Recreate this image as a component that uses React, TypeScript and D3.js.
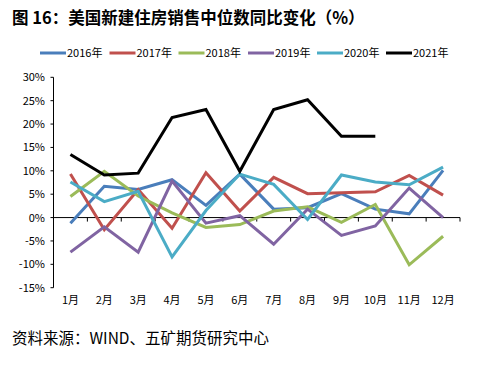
import React from "react";
import * as d3 from "d3";

const months = ["1月","2月","3月","4月","5月","6月","7月","8月","9月","10月","11月","12月"];
const yTicks = [30, 25, 20, 15, 10, 5, 0, -5, -10, -15];
const s2016 = [-1.2, 6.7, 6.0, 8.1, 2.6, 9.3, 1.8, 2.1, 5.1, 1.8, 0.8, 10.1];
const s2017 = [9.3, -2.6, 6.0, -2.3, 9.6, 1.4, 8.6, 5.1, 5.3, 5.5, 9.0, 4.8];
const s2018 = [4.5, 9.9, 4.6, 1.0, -2.1, -1.5, 1.4, 2.3, -1.0, 2.8, -10.1, -4.0];
const s2019 = [-7.4, -2.0, -7.4, 7.8, -1.2, 0.4, -5.7, 1.8, -3.8, -1.8, 6.3, 0.0];
const s2020 = [7.6, 3.4, 5.6, -8.4, 1.5, 9.3, 7.1, -0.4, 9.1, 7.6, 7.0, 10.8];
const s2021 = [13.5, 9.1, 9.5, 21.4, 23.1, 9.9, 23.1, 25.2, 17.4, 17.4];
const seriesNames = ["2016年","2017年","2018年","2019年","2020年","2021年"];
const colors = ["#4A7EBB", "#C0504D", "#9BBB59", "#8064A2", "#4BACC6", "#000000"];

export default function App() {
  const W = 479, H = 367;
  const left = 53.5, right = 460, top = 77.3, bottom = 287.7;
  const x = d3.scaleBand<string>().domain(months).range([left, right]);
  const y = d3.scaleLinear().domain([-15, 30]).range([bottom, top]);
  const all = [s2016, s2017, s2018, s2019, s2020, s2021];
  const line = d3.line<number>()
    .x((_, i) => (x(months[i]) as number) + x.bandwidth() / 2)
    .y((d) => y(d));
  const font = "'Noto Sans CJK SC', 'Noto Sans', sans-serif";
  const legendX = [40, 109.5, 178.5, 248, 317, 386];
  return (
    <svg width={W} height={H} style={{ position: "absolute", left: 0, top: 0, background: "#fff" }}
      fontFamily={font}>
      <text x={12} y={24} fontSize={16.5} fontWeight="bold" fill="#000">图 16：美国新建住房销售中位数同比变化（%）</text>
      {seriesNames.map((n, i) => (
        <g key={n}>
          <line x1={legendX[i]} x2={legendX[i] + 26} y1={53} y2={53} stroke={colors[i]} strokeWidth={3} />
          <text x={legendX[i] + 27} y={57} fontSize={11} fill="#000">{n}</text>
        </g>
      ))}
      <line x1={left} x2={left} y1={top} y2={bottom} stroke="#000" strokeWidth={1} />
      {yTicks.map((t) => (
        <g key={t}>
          <line x1={left - 3} x2={left} y1={y(t)} y2={y(t)} stroke="#000" />
          <text x={45} y={y(t) + 4} fontSize={11} textAnchor="end" fill="#000">{t}%</text>
        </g>
      ))}
      <line x1={left} x2={right} y1={y(0)} y2={y(0)} stroke="#000" strokeWidth={1} />
      {months.map((m) => (
        <line key={"t" + m} x1={(x(m) as number) + x.bandwidth()} x2={(x(m) as number) + x.bandwidth()}
          y1={y(0)} y2={y(0) + 4} stroke="#000" />
      ))}
      {months.map((m) => (
        <text key={m} x={(x(m) as number) + x.bandwidth() / 2} y={304} fontSize={11} textAnchor="middle" fill="#000">{m}</text>
      ))}
      {all.map((s, i) => (
        <path key={i} d={line(s) || ""} fill="none" stroke={colors[i]} strokeWidth={3} strokeLinejoin="miter" />
      ))}
      <text x={12} y={344} fontSize={15.5} fill="#000">资料来源：WIND、五矿期货研究中心</text>
    </svg>
  );
}
